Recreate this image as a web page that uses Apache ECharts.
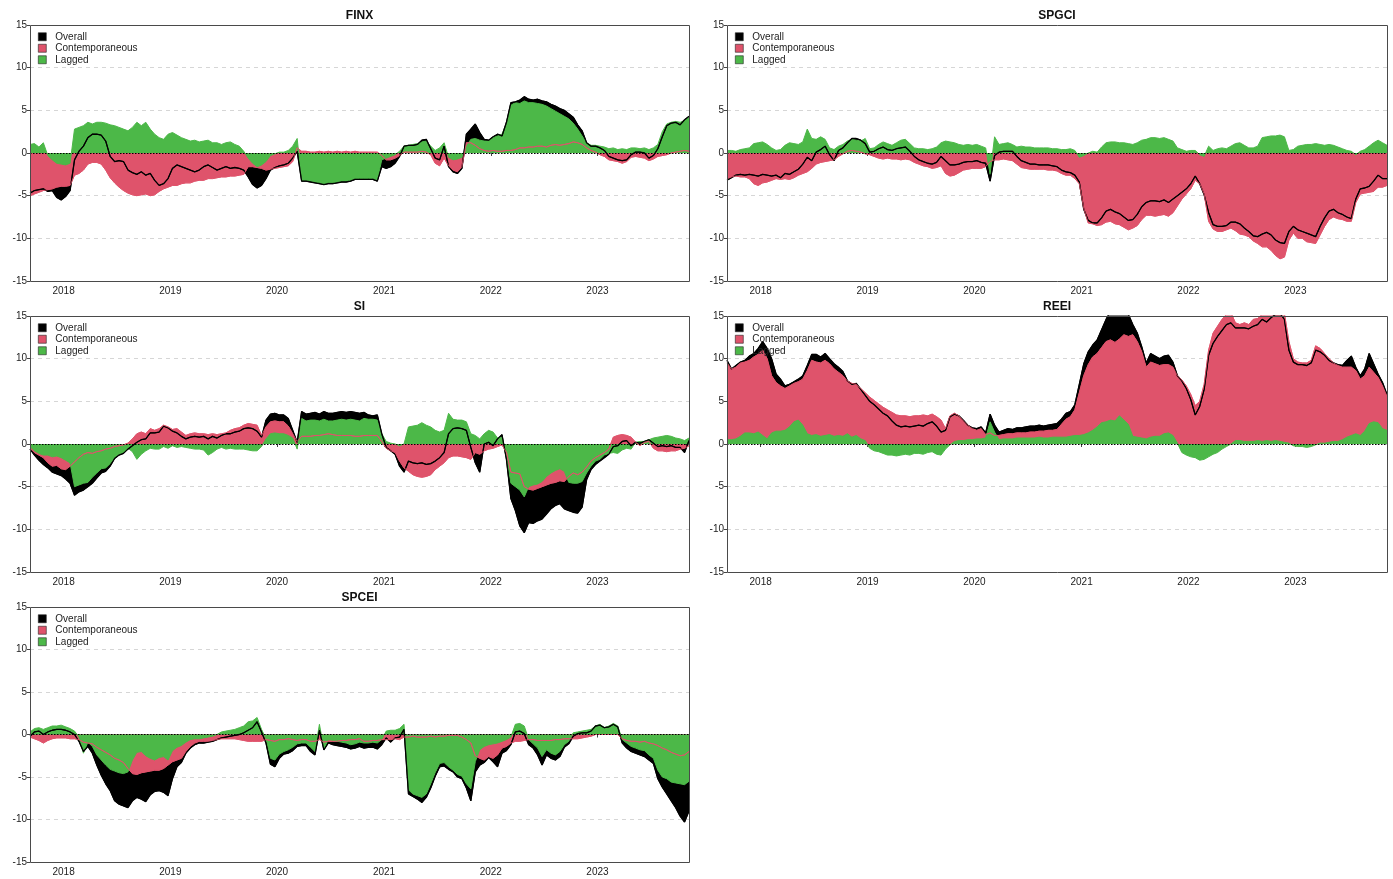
<!DOCTYPE html>
<html>
<head>
<meta charset="utf-8">
<script src="https://cdn.jsdelivr.net/npm/echarts@6.0.0/dist/echarts.min.js"></script>
<style>
  html, body { margin: 0; padding: 0; background: #ffffff; }
  #chart { width: 1393px; height: 879px; }
</style>
</head>
<body>
<div id="chart"></div>
<script>
// Net spillover decomposition: overall, contemporaneous and lagged components,
// sampled twice a month between the first and last observation.
const firstDay = Date.UTC(2017, 8, 8);
const lastDay = Date.UTC(2023, 10, 10);
const yearTicks = [2018, 2019, 2020, 2021, 2022, 2023];
const seriesNames = ['Overall', 'Contemporaneous', 'Lagged'];

const finxOverall = [
  -4.7, -4.4, -4.3, -4.2, -4.5, -4.4, -5.2, -5.5, -5.1, -4.4,
  -0.8, 0.2, 0.8, 1.8, 2.2, 2.2, 2.1, 1.4, -0.4, -1.0,
  -0.9, -1.0, -2.0, -2.3, -2.5, -2.2, -2.6, -2.4, -3.2, -3.8,
  -3.6, -3.0, -1.8, -1.4, -1.6, -1.8, -2.0, -2.2, -2.0, -1.6,
  -1.4, -1.7, -2.0, -1.8, -1.6, -1.8, -1.7, -1.8, -2.0, -2.8,
  -3.7, -4.1, -3.8, -3.0, -2.0, -1.7, -1.5, -1.4, -1.2, -0.6,
  0.2, -3.3, -3.3, -3.4, -3.5, -3.6, -3.7, -3.6, -3.6, -3.5,
  -3.4, -3.4, -3.3, -3.1, -3.1, -3.1, -3.1, -3.1, -3.3, -1.6,
  -1.8, -1.6, -1.2, -0.4, 0.8, 0.9, 0.9, 1.0, 1.5, 1.6,
  0.5, -0.6, -0.8, 0.8, -1.6, -2.2, -2.4, -1.8, 2.2, 2.8,
  3.4, 2.4, 1.6, 1.5, 1.9, 2.2, 2.0, 3.6, 5.9, 6.0,
  6.2, 6.6, 6.3, 6.2, 6.3, 6.1, 6.0, 5.7, 5.5, 5.2,
  5.0, 4.6, 4.2, 3.3, 2.6, 1.2, 0.8, 0.8, 0.6, 0.3,
  -0.4, -0.6, -0.8, -0.9, -0.8, -0.2, 0.1, 0.1, 0.0, -0.6,
  -0.3, 0.5, 1.9, 3.2, 3.5, 3.6, 3.3, 3.9, 4.3
];
const finxContemp = [
  -5.0, -4.8, -4.6, -4.4, -4.3, -4.2, -4.0, -3.9, -3.9, -3.8,
  -2.6, -2.4, -2.0, -1.3, -1.1, -1.1, -1.3, -2.0, -2.9, -3.5,
  -4.0, -4.4, -4.7, -4.9, -5.0, -4.9, -4.8, -5.0, -4.9, -4.5,
  -4.2, -4.0, -3.8, -3.8, -3.6, -3.5, -3.5, -3.3, -3.2, -3.2,
  -3.0, -3.0, -2.9, -2.8, -2.8, -2.7, -2.7, -2.6, -2.5, -1.6,
  -1.6, -1.7, -1.8, -2.0, -1.9, -1.8, -1.7, -1.6, -1.5, -1.0,
  0.6, 0.2, 0.2, 0.1, 0.1, 0.2, 0.1, 0.2, 0.1, 0.2,
  0.1, 0.2, 0.1, 0.2, 0.1, 0.1, 0.1, 0.1, 0.1, -0.3,
  -0.8, -0.8, -0.6, -0.3, 0.1, 0.1, 0.1, 0.1, 0.2, 0.1,
  -0.2, -1.2, -1.5, -0.6, -1.5, -2.0, -2.2, -1.6, 1.2, 1.2,
  0.9, 0.5, 0.3, 0.2, 0.3, 0.2, 0.2, 0.3, 0.3, 0.4,
  0.6, 0.6, 0.7, 0.7, 0.8, 0.8, 0.7, 0.9, 1.0, 0.9,
  1.0, 1.1, 1.3, 1.2, 1.0, 0.6, 0.3, 0.1, -0.2, -0.4,
  -0.8, -0.9, -1.0, -1.2, -1.0, -0.5, -0.4, -0.5, -0.6, -0.9,
  -0.7, -0.4, -0.3, -0.2, 0.0, 0.1, 0.2, 0.3, 0.2
];
const finxLagged = [
  1.0, 1.1, 0.7, 1.2, -0.3, -0.8, -1.2, -1.3, -1.4, -1.2,
  2.8, 3.0, 3.2, 3.6, 3.4, 3.6, 3.6, 3.5, 3.3, 3.2,
  3.0, 2.8, 2.6, 3.0, 3.6, 3.2, 3.6, 2.8, 2.2, 1.8,
  1.6, 2.2, 2.4, 2.1, 1.8, 1.6, 1.4, 1.5, 1.3, 1.4,
  1.5, 1.2, 1.2, 1.0, 1.2, 1.3, 1.0, 0.8, 0.2, -0.6,
  -1.2, -1.6, -1.4, -1.0, -0.3, -0.1, 0.1, 0.1, 0.3, 0.8,
  1.7, -3.2, -3.2, -3.3, -3.4, -3.5, -3.6, -3.5, -3.5, -3.4,
  -3.3, -3.3, -3.2, -3.0, -3.0, -3.0, -3.0, -3.0, -3.2, -0.8,
  -0.6, -0.4, -0.2, 0.2, 0.8, 0.9, 1.0, 1.1, 1.3, 1.4,
  0.8, 0.3, 0.6, 1.2, -0.5, -0.8, -0.7, -0.5, 0.8, 1.6,
  1.7, 1.5, 1.4, 1.4, 1.8, 2.0, 2.2, 3.5, 5.6, 5.9,
  5.8, 6.1, 5.9, 5.9, 5.8, 5.7, 5.5, 5.2, 4.9, 4.6,
  4.3, 4.0, 3.5, 2.8, 2.0, 1.2, 0.9, 0.9, 0.8, 0.7,
  0.5, 0.6, 0.4, 0.5, 0.4, 0.6, 0.6, 0.5, 0.6, 0.4,
  0.6, 1.0, 2.5, 3.4, 3.6, 3.7, 3.6, 3.8, 4.2
];

const spgciOverall = [
  -3.2, -2.9, -2.6, -2.5, -2.6, -2.5, -2.6, -2.7, -2.5, -2.6,
  -2.7, -2.6, -2.9, -2.4, -2.5, -2.2, -1.9, -1.3, -0.5, -0.9,
  0.1, 0.4, 0.8, -0.2, -0.9, 0.3, 0.6, 1.2, 1.7, 1.7,
  1.5, 1.1, 0.1, 0.2, 0.5, 0.7, 0.4, 0.3, 0.5, 0.6,
  0.7, 0.2, -0.4, -0.8, -1.0, -1.2, -1.3, -1.1, -0.4, -0.9,
  -1.4, -1.4, -1.3, -1.1, -1.0, -1.0, -0.9, -1.1, -1.2, -3.3,
  -0.3, 0.1, 0.2, 0.2, 0.2, -0.4, -0.9, -1.1, -1.3, -1.3,
  -1.4, -1.4, -1.4, -1.5, -1.6, -2.0, -2.2, -2.3, -2.6, -3.4,
  -6.6, -7.9, -8.2, -8.2, -7.6, -6.8, -6.6, -6.9, -7.1, -7.5,
  -7.9, -7.8, -7.2, -6.3, -5.8, -5.6, -5.6, -5.7, -5.5, -5.8,
  -5.4, -5.0, -4.6, -4.2, -3.6, -2.7, -3.6, -4.9, -7.0, -8.4,
  -8.6, -8.6, -8.5, -8.1, -8.1, -8.3, -8.8, -9.2, -9.7, -9.8,
  -9.5, -9.3, -9.6, -10.2, -10.5, -10.6, -9.2, -8.6, -9.0, -9.2,
  -9.4, -9.6, -9.8, -8.6, -7.6, -6.8, -6.6, -7.0, -7.2, -7.5,
  -7.7, -5.4, -4.2, -4.1, -3.9, -3.3, -2.6, -3.0, -3.0
];
const spgciContemp = [
  -3.0, -2.8, -2.7, -2.8, -2.8, -3.0, -3.6, -3.8, -3.5, -3.4,
  -3.2, -3.0, -3.1, -3.0, -3.1, -2.9, -2.6, -2.4, -2.2, -1.8,
  -1.3, -1.1, -1.0, -0.9, -0.8, -0.4, -0.1, 0.2, 0.3, 0.2,
  0.1, -0.1, -0.2, -0.4, -0.6, -0.7, -0.6, -0.7, -0.7, -0.8,
  -0.7, -0.8, -1.1, -1.3, -1.5, -1.6, -1.8, -1.7, -1.5, -2.4,
  -2.7, -2.6, -2.3, -2.0, -1.9, -1.8, -1.8, -1.8, -1.6, -1.0,
  -0.8, -0.8, -0.7, -0.8, -0.9, -1.3, -1.7, -1.8, -1.9, -1.9,
  -1.9, -1.9, -2.0, -2.0, -2.1, -2.4, -2.6, -2.6, -3.0, -3.6,
  -6.5, -8.2, -8.3, -8.5, -8.4, -8.1, -8.0, -8.3, -8.4, -8.7,
  -9.0, -8.8, -8.5, -7.8, -7.3, -7.3, -7.4, -7.3, -7.2, -7.4,
  -7.0, -6.2, -5.4, -4.8, -4.2, -3.2, -3.6, -4.8, -8.0, -8.9,
  -9.2, -9.2, -9.0, -8.8, -9.1, -9.5, -9.6, -9.8, -10.3, -10.6,
  -11.0, -11.0, -11.4, -12.0, -12.4, -12.2, -10.2, -9.4, -10.0, -10.0,
  -10.4, -10.5, -10.6, -9.6, -8.6, -7.8, -7.5, -7.7, -7.8, -8.0,
  -8.0, -5.8, -4.8, -4.7, -4.6, -4.5, -4.0, -4.0, -3.8
];
const spgciLagged = [
  0.3, 0.3, 0.2, 0.4, 0.5, 0.6, 1.1, 1.2, 1.3, 1.0,
  0.6, 0.3, 0.4, 0.9, 1.2, 1.1, 1.0, 1.3, 2.8, 1.7,
  1.6, 1.9, 1.6, 0.6, 0.4, 0.8, 1.0, 1.4, 1.6, 1.5,
  1.4, 1.7, 0.5, 0.6, 1.0, 1.3, 1.1, 0.9, 1.2, 1.5,
  1.6, 1.1, 0.6, 0.5, 0.5, 0.4, 0.5, 0.7, 1.2, 1.4,
  1.3, 1.2, 1.0, 0.9, 1.0, 0.9, 1.0, 0.8, 0.6, -2.5,
  1.9, 1.0, 1.1, 1.2, 1.0, 0.7, 0.8, 0.7, 0.7, 0.6,
  0.6, 0.6, 0.6, 0.5, 0.5, 0.4, 0.4, 0.5, 0.3, -0.5,
  -0.3, 0.0, 0.2, 0.1, 0.7, 1.2, 1.3, 1.3, 1.2, 1.2,
  1.1, 1.0, 1.2, 1.5, 1.6, 1.8, 1.8, 1.7, 1.8, 1.6,
  1.4, 0.6, 0.4, 0.2, 0.3, 0.3, -0.2, -0.4, 0.8, 0.3,
  0.5, 0.6, 0.5, 0.8, 1.1, 1.2, 0.9, 0.6, 0.6, 0.8,
  1.8, 1.9, 2.0, 2.0, 2.1, 1.9, 0.3, 0.4, 0.8, 0.9,
  1.0, 1.0, 1.1, 1.0, 0.9, 1.0, 0.9, 0.7, 0.5, 0.3,
  0.2, -0.2, 0.2, 0.4, 0.8, 1.2, 1.5, 1.2, 0.9
];

const siOverall = [
  -0.6, -1.3, -1.9, -2.4, -2.8, -3.3, -3.5, -3.7, -4.1, -4.6,
  -6.0, -5.6, -5.4, -5.0, -4.6, -4.0, -3.4, -3.2, -2.6, -1.7,
  -1.3, -1.1, -0.6, -0.2, 0.2, 0.5, 0.6, 1.3, 1.3, 1.4,
  2.1, 1.9, 1.5, 1.3, 0.9, 0.6, 0.8, 0.9, 0.8, 0.9,
  0.6, 0.9, 0.7, 1.0, 1.2, 1.2, 1.4, 1.5, 1.8, 1.9,
  1.8, 1.5, 0.8, 2.8, 3.5, 3.6, 3.4, 3.4, 3.0, 1.6,
  0.2, 3.8, 3.5, 3.6, 3.7, 3.5, 3.8, 3.6, 3.6, 3.7,
  3.8, 3.7, 3.8, 3.7, 3.6, 3.7, 3.4, 3.3, 3.4, 1.2,
  -0.4, -0.8, -1.2, -2.6, -3.3, -2.0, -2.2, -2.3, -2.2, -2.4,
  -2.3, -2.0, -1.6, -1.0, 1.2, 1.8, 1.9, 1.8, 1.6, -0.4,
  -2.2, -3.3, 0.0, 0.2, -0.2, 0.6, 1.1, -1.8, -6.4, -7.8,
  -9.6, -10.4, -9.2, -9.3, -9.0, -8.8, -8.2, -7.6, -7.2, -7.0,
  -7.6, -7.8, -8.0, -8.1, -7.4, -4.2, -3.0, -2.4, -2.0, -1.6,
  -1.2, -0.3, -0.2, 0.3, 0.4, -0.2, 0.2, 0.1, 0.3, 0.5,
  0.1, -0.3, -0.2, -0.3, -0.2, -0.4, -0.4, -1.0, 0.4
];
const siContemp = [
  -0.5, -1.0, -1.3, -1.6, -2.2, -2.6, -2.5, -2.9, -3.0, -2.6,
  -2.1, -1.6, -1.2, -1.0, -1.1, -0.9, -0.8, -0.6, -0.5, -0.3,
  -0.2, -0.1, 0.1, 0.6, 1.2, 1.4, 1.2, 1.8, 1.6, 1.8,
  2.2, 2.0, 1.7, 1.8, 1.4, 1.0, 1.2, 1.3, 1.2, 1.2,
  1.1, 1.2, 1.1, 1.2, 1.3, 1.6, 1.8, 1.9, 2.2, 2.4,
  2.3, 2.2, 1.0, 2.0, 2.6, 2.7, 2.6, 2.6, 2.1, 1.2,
  0.3, 0.9, 0.9, 0.9, 1.0, 1.0, 1.1, 1.2, 1.1, 1.0,
  1.0, 1.0, 1.0, 0.9, 0.9, 1.0, 1.0, 1.0, 1.0, 0.3,
  -0.5, -0.8, -1.0, -2.0, -2.8, -3.2, -3.6, -3.8, -3.9, -3.8,
  -3.6, -3.0, -2.6, -2.2, -1.6, -1.4, -1.4, -1.5, -1.6, -1.8,
  -1.0, -1.2, -0.8, -0.6, -0.5, -0.3, -0.1, -1.0, -3.3, -3.4,
  -3.5, -5.0, -5.3, -5.4, -5.2, -5.0, -4.8, -4.6, -4.5, -4.3,
  -4.4, -3.8, -3.4, -3.6, -3.3, -2.7, -2.0, -1.6, -1.3, -1.0,
  -0.6, 0.8, 1.0, 1.1, 1.0, 0.8, 0.2, -0.2, 0.2, 0.3,
  -0.5, -0.8, -0.8, -0.9, -0.8, -0.8, -0.6, -0.5, -0.2
];
const siLagged = [
  -0.3, -0.8, -1.1, -1.3, -1.3, -1.5, -1.4, -1.6, -1.9, -2.2,
  -5.0, -4.8, -4.6, -4.5, -3.9, -3.4, -2.9, -2.8, -2.3, -1.6,
  -1.2, -1.0, -0.5, -0.9, -1.8, -1.2, -0.8, -0.5, -0.6, -0.6,
  -0.3, -0.5, -0.2, -0.4, -0.3, -0.4, -0.5, -0.6, -0.6, -0.7,
  -1.3, -1.0, -0.6, -0.4, -0.6, -0.5, -0.6, -0.6, -0.6, -0.7,
  -0.8, -0.8, -0.3, 0.6, 1.2, 1.3, 1.2, 1.2, 1.0, 0.7,
  -0.6, 3.0, 2.7, 2.8, 2.8, 2.7, 2.9, 2.7, 2.7, 2.8,
  2.9, 2.8, 2.9, 2.8, 2.7, 3.0, 2.9, 2.9, 2.8, 1.2,
  0.3, 0.1, 0.0, -0.2, 0.0, 2.0, 2.1, 2.2, 2.5, 2.2,
  2.0, 1.6, 1.4, 1.6, 3.6, 2.9, 2.8, 2.8, 2.6, 1.2,
  1.0, 0.6, 1.2, 1.6, 1.4, 0.7, 0.8, -1.5, -4.6, -5.0,
  -5.4, -6.2, -5.0, -4.8, -4.7, -4.4, -3.8, -3.4, -3.1, -2.9,
  -3.2, -4.5, -4.6, -4.6, -4.4, -3.4, -2.6, -2.0, -1.8, -1.3,
  -1.1, -1.0, -1.1, -0.7, -0.5, -0.6, 0.2, 0.3, 0.3, 0.5,
  0.7, 0.8, 0.9, 1.0, 0.9, 0.7, 0.6, 0.4, 0.7
];

const reeiOverall = [
  9.8, 8.8, 9.2, 9.6, 9.8, 10.3, 10.6, 11.2, 12.0, 11.2,
  10.0, 8.2, 7.6, 6.8, 7.0, 7.3, 7.6, 8.0, 9.2, 10.5,
  10.5, 10.2, 10.6, 10.0, 9.4, 9.0, 8.5, 7.4, 7.0, 7.1,
  6.4, 5.7, 5.0, 4.6, 4.1, 3.6, 3.3, 2.7, 2.2, 2.0,
  2.1, 2.0, 2.1, 2.2, 2.1, 2.4, 2.6, 2.1, 1.4, 1.6,
  3.2, 3.5, 3.3, 2.8, 2.2, 1.9, 1.8, 2.0, 1.3, 3.5,
  2.2, 1.4, 1.6, 1.8, 1.7, 1.9, 1.9, 2.0, 2.1, 2.1,
  2.2, 2.1, 2.2, 2.3, 2.4, 2.9, 3.6, 3.8, 4.6, 7.0,
  9.4, 10.8, 11.6, 12.2, 13.4, 14.6, 15.6, 15.4, 15.8, 15.5,
  15.2, 14.0, 13.0, 11.4, 9.5, 10.6, 10.3, 10.0, 10.3, 10.4,
  9.6, 8.0, 7.4, 6.5, 5.2, 3.4, 4.4, 6.4, 10.4, 11.8,
  12.6, 13.3, 14.0, 14.2, 13.6, 13.6, 13.6, 13.5, 13.8, 14.0,
  14.6, 14.3, 14.8, 15.2, 15.3, 14.6, 11.0, 9.6, 9.3, 9.3,
  9.2, 9.5, 11.0, 10.8, 10.4, 9.8, 9.5, 9.3, 9.2, 9.8,
  10.3, 9.0, 8.0, 8.8, 10.6, 9.4, 8.2, 7.2, 5.8
];
const reeiContemp = [
  9.5, 8.8, 9.0, 9.5, 9.6, 9.8, 10.2, 10.5, 11.0, 10.0,
  8.0, 7.2, 6.8, 6.5, 6.8, 7.1, 7.3, 7.6, 8.6, 9.8,
  9.6, 9.5, 9.8, 9.4, 8.8, 8.4, 8.0, 7.4, 7.1, 7.0,
  6.5, 6.0, 5.5, 5.1, 4.7, 4.3, 4.0, 3.7, 3.4, 3.3,
  3.3, 3.2, 3.3, 3.3, 3.4, 3.3, 3.5, 3.2, 2.8, 1.8,
  3.3, 3.6, 3.3, 2.7, 2.2, 1.8, 1.6, 1.8, 1.1, 1.3,
  1.0, 1.0, 1.1, 1.2, 1.2, 1.3, 1.3, 1.3, 1.4, 1.4,
  1.5, 1.5, 1.6, 1.6, 1.7, 2.3, 2.9, 3.2, 4.0, 6.0,
  8.0, 9.3, 10.2, 10.6, 11.3, 12.0, 12.2, 11.9, 12.3, 12.8,
  12.6, 12.8, 12.0, 10.8, 9.0, 9.6, 9.4, 9.2, 9.3, 9.3,
  9.0, 8.0, 7.5, 6.8, 5.8, 4.5, 5.0, 7.0, 11.0, 13.0,
  13.8, 14.6, 15.2, 15.4, 14.2, 14.0, 14.2, 14.0, 14.6, 14.7,
  15.2, 15.4, 15.5, 15.5, 15.6, 15.3, 12.0, 10.0, 9.6, 9.5,
  9.5, 9.8, 11.5, 11.2, 10.6, 10.0, 9.5, 9.2, 9.0, 9.0,
  9.0, 8.6, 7.6, 8.0, 9.0, 8.4, 7.8, 6.8, 5.6
];
const reeiLagged = [
  0.5, 0.5, 0.6, 0.9, 1.3, 1.3, 1.2, 1.4, 1.0, 0.6,
  1.3, 1.5, 1.5, 1.6, 2.0, 2.6, 2.8, 2.2, 1.2, 1.0,
  1.1, 0.9, 1.0, 1.1, 0.9, 1.0, 0.9, 1.2, 0.8, 1.0,
  0.6, 0.4, -0.5, -0.8, -0.9, -1.1, -1.3, -1.3, -1.4, -1.3,
  -1.2, -1.3, -1.1, -1.1, -1.2, -1.0, -0.9, -1.2, -1.3, -0.6,
  -0.1, 0.3, 0.4, 0.4, 0.5, 0.5, 0.6, 0.6, 0.7, 2.6,
  1.4, 0.5, 0.6, 0.6, 0.6, 0.7, 0.7, 0.7, 0.7, 0.7,
  0.8, 0.7, 0.7, 0.8, 0.8, 0.8, 0.8, 0.9, 1.0, 1.0,
  1.1, 1.3, 1.6, 2.0, 2.5, 2.6, 2.8, 2.7, 3.3, 2.8,
  2.3, 0.9, 0.8, 0.7, 0.6, 0.8, 0.9, 0.9, 1.2, 1.3,
  1.0, 0.1, -1.0, -1.3, -1.5, -1.6, -1.9, -1.8, -1.5, -1.2,
  -1.0, -0.6, -0.3, 0.0, 0.4, 0.4, 0.3, 0.3, 0.3, 0.4,
  0.3, 0.4, 0.3, 0.4, 0.3, 0.2, 0.1, -0.2, -0.3, -0.3,
  -0.4, -0.3, -0.1, 0.1, 0.1, 0.2, 0.3, 0.3, 0.5, 0.8,
  1.0, 1.2, 1.0, 1.5, 2.4, 2.6, 2.5, 1.8, 1.6
];

const spceiOverall = [
  -0.2, 0.3, 0.4, 0.0, 0.3, 0.5, 0.6, 0.6, 0.5, 0.3,
  0.0, -0.8, -2.0, -1.4, -2.2, -3.6, -4.8, -5.8, -6.6, -7.8,
  -8.2, -8.4, -8.6, -7.8, -7.4, -7.6, -7.9, -7.1, -6.7, -6.6,
  -6.8, -7.2, -5.2, -3.8, -3.3, -2.2, -1.6, -1.2, -1.0, -1.0,
  -0.9, -0.8, -0.6, -0.4, -0.3, -0.2, -0.1, 0.0, 0.2, 0.5,
  0.8, 1.5, 0.3, -1.0, -3.5, -3.8, -2.8, -2.3, -2.2, -1.9,
  -1.4, -1.3, -1.3, -2.0, -2.4, 0.5, -1.8, -1.0, -1.2, -1.3,
  -1.4, -1.5, -1.7, -1.6, -1.4, -1.6, -1.5, -1.5, -1.7, -1.2,
  -0.4, -0.9, -0.4, -0.3, 0.6, -7.0, -7.3, -7.6, -8.0, -7.4,
  -6.3, -4.9, -3.8, -3.7, -4.1, -4.4, -5.0, -5.2, -6.3, -7.8,
  -4.4, -3.6, -3.3, -2.7, -3.2, -3.8, -2.2, -1.9, -1.2, 0.3,
  0.4, 0.1, -1.2, -1.6, -2.4, -3.6, -2.4, -2.8, -3.0, -2.6,
  -1.5, -1.1, -0.2, 0.1, 0.2, 0.2, 0.4, 1.0, 1.1, 0.8,
  0.9, 1.2, 0.9, -1.0, -1.6, -2.0, -2.2, -2.4, -2.6, -3.0,
  -3.4, -5.2, -6.2, -7.0, -7.8, -8.6, -9.6, -10.3, -9.0
];
const spceiContemp = [
  -0.3, -0.5, -0.7, -1.0, -0.7, -0.5, -0.4, -0.4, -0.4, -0.5,
  -0.5, -0.6, -0.9, -1.0, -1.1, -1.5, -1.8, -2.1, -2.4, -2.8,
  -3.0, -3.3, -4.0, -4.6, -4.7, -4.5, -4.4, -4.3, -4.2, -4.2,
  -4.0, -3.6, -3.2, -3.0, -2.8, -2.0, -1.4, -1.0, -0.8, -0.8,
  -0.8, -0.7, -0.6, -0.5, -0.5, -0.5, -0.5, -0.6, -0.7, -0.8,
  -0.8, -0.8, -0.8, -0.6, -0.7, -0.8, -0.6, -0.6, -0.5, -0.6,
  -0.7, -0.6, -0.6, -0.8, -0.8, -0.6, -0.9, -0.8, -0.8, -0.8,
  -0.7, -0.7, -0.6, -0.6, -0.5, -0.8, -0.8, -0.7, -0.7, -0.6,
  -0.6, -0.6, -0.5, -0.6, -0.3, -0.3, -0.2, -0.3, -0.3, -0.3,
  -0.2, -0.3, -0.2, -0.2, -0.1, -0.1, -0.1, -0.3, -0.6, -1.0,
  -2.5, -2.8, -3.0, -2.6, -2.8, -2.4, -1.6, -1.4, -1.0, -0.8,
  -0.8, -0.7, -0.6, -0.6, -0.7, -0.7, -0.7, -0.7, -0.6, -0.6,
  -0.5, -0.5, -0.5, -0.5, -0.4, -0.3, -0.2, 0.0, 0.0, 0.0,
  0.0, 0.0, 0.0, -0.5, -0.7, -0.8, -0.8, -0.9, -0.8, -1.0,
  -1.1, -1.3, -1.6, -1.8, -2.1, -2.3, -2.5, -2.4, -2.0
];
const spceiLagged = [
  0.3, 0.7, 0.8, 0.6, 0.8, 1.0, 1.0, 1.1, 0.9, 0.7,
  0.4, -0.3, -2.2, -0.9, -1.4, -2.4, -3.0, -3.6, -4.1, -4.3,
  -4.5, -4.6, -4.4, -3.0, -2.1, -2.0, -2.5, -2.8, -3.0, -2.7,
  -2.6, -3.0, -1.9, -1.5, -1.3, -0.9, -0.6, -0.5, -0.5, -0.4,
  -0.3, -0.2, 0.0, 0.3, 0.4, 0.5, 0.6, 0.8, 1.0, 1.5,
  1.6, 2.0, 0.6, -0.5, -2.8, -3.0, -2.3, -2.0, -1.8, -1.5,
  -1.1, -1.0, -1.0, -1.5, -2.0, 1.2, -1.7, -0.6, -0.7, -0.8,
  -0.9, -1.0, -1.2, -1.1, -0.9, -1.0, -1.0, -0.9, -1.0, -0.6,
  0.4, 0.5, 0.5, 0.7, 1.2, -6.5, -7.0, -7.2, -7.4, -7.0,
  -5.8, -4.5, -3.4, -3.3, -3.8, -4.2, -4.7, -4.9, -5.8, -6.4,
  -3.2, -1.8, -1.4, -1.2, -1.1, -1.0, -0.8, -0.6, -0.3, 1.2,
  1.3, 1.0, -0.6, -1.1, -1.6, -2.6, -1.8, -2.2, -2.4, -2.0,
  -1.2, -0.8, 0.2, 0.3, 0.4, 0.5, 0.6, 1.0, 1.2, 0.8,
  1.0, 1.3, 1.0, -0.6, -1.0, -1.4, -1.6, -1.8, -1.9, -2.4,
  -2.8, -4.2, -5.0, -5.2, -5.6, -5.7, -5.8, -5.9, -5.5
];

const panels = [
  { title: 'FINX', overall: finxOverall, contemp: finxContemp, lagged: finxLagged },
  { title: 'SPGCI', overall: spgciOverall, contemp: spgciContemp, lagged: spgciLagged },
  { title: 'SI', overall: siOverall, contemp: siContemp, lagged: siLagged },
  { title: 'REEI', overall: reeiOverall, contemp: reeiContemp, lagged: reeiLagged },
  { title: 'SPCEI', overall: spceiOverall, contemp: spceiContemp, lagged: spceiLagged }
];

// Page layout: three rows, two columns (last cell empty).
const boxes = [
  { left: 30, top: 25, width: 659, height: 256 },
  { left: 727, top: 25, width: 660, height: 256 },
  { left: 30, top: 316, width: 659, height: 256 },
  { left: 727, top: 316, width: 660, height: 256 },
  { left: 30, top: 607, width: 659, height: 255 }
];

const FONT = '"Liberation Sans", Arial, Helvetica, sans-serif';
const COLOR = { overall: '#000000', contemp: '#df536b', lagged: '#4cb848' };
const yearStamps = yearTicks.map(y => Date.UTC(y, 0, 1));

function toPairs(values) {
  const step = (lastDay - firstDay) / (values.length - 1);
  return values.map((v, i) => [firstDay + i * step, v]);
}

const grids = [], xAxes = [], yAxes = [], series = [], legends = [], graphics = [];

panels.forEach((p, k) => {
  const b = boxes[k];
  grids.push({ left: b.left, top: b.top, width: b.width, height: b.height, show: false, containLabel: false });

  xAxes.push({
    gridIndex: k, type: 'value', min: firstDay, max: lastDay,
    axisLine: { show: false },
    axisTick: { show: true, customValues: yearStamps, length: 3, lineStyle: { color: '#444', width: 1 } },
    axisLabel: {
      show: true, customValues: yearStamps, margin: 5,
      formatter: v => String(new Date(v).getUTCFullYear()),
      fontFamily: FONT, fontSize: 10, color: '#222'
    },
    splitLine: { show: false }
  });

  yAxes.push({
    gridIndex: k, type: 'value', min: -15, max: 15, interval: 5,
    axisLine: { show: false },
    axisTick: { show: true, length: 3, lineStyle: { color: '#444', width: 1 } },
    axisLabel: { margin: 3, fontFamily: FONT, fontSize: 10, color: '#222' },
    splitLine: { show: true, lineStyle: { type: [4, 4], color: '#d6d6d6', width: 1 } }
  });

  const area = (name, values, color) => ({
    type: 'line', name, xAxisIndex: k, yAxisIndex: k,
    data: toPairs(values), showSymbol: false, symbol: 'none',
    itemStyle: { color }, lineStyle: { color, width: 1 },
    areaStyle: { color, opacity: 1, origin: 0 },
    silent: true, animation: false
  });
  const line = (name, values, color, width) => ({
    type: 'line', name, xAxisIndex: k, yAxisIndex: k,
    data: toPairs(values), showSymbol: false, symbol: 'none',
    itemStyle: { color }, lineStyle: { color, width },
    silent: true, animation: false
  });

  series.push(area('Overall', p.overall, COLOR.overall));
  series.push(area('Contemporaneous', p.contemp, COLOR.contemp));
  series.push(area('Lagged', p.lagged, COLOR.lagged));
  series.push(line('Overall', p.overall, COLOR.overall, 1.3));
  const ctLine = line('Contemporaneous', p.contemp, COLOR.contemp, 0.8);
  ctLine.markLine = {
    silent: true, symbol: ['none', 'none'], animation: false,
    label: { show: false },
    lineStyle: { type: [1.5, 1.5], color: '#000', width: 1 },
    data: [{ yAxis: 0 }]
  };
  series.push(ctLine);

  legends.push({
    left: b.left + 8, top: b.top + 6, orient: 'vertical',
    icon: 'rect', itemWidth: 8, itemHeight: 8, itemGap: 0, padding: 0,
    selectedMode: false,
    data: seriesNames.map(n => ({ name: n })),
    itemStyle: { borderColor: '#222', borderWidth: 0.6 },
    textStyle: { fontFamily: FONT, fontSize: 10, color: '#222', lineHeight: 11.5, padding: [0, 0, 0, 4] }
  });

  // frame around each plot, kept above the filled areas
  graphics.push({
    type: 'rect', z: 100, silent: true,
    shape: { x: b.left + 0.5, y: b.top + 0.5, width: b.width, height: b.height },
    style: { fill: 'none', stroke: '#4a4a4a', lineWidth: 1 }
  });
  graphics.push({
    type: 'text', z: 100, silent: true,
    x: b.left + b.width / 2, y: b.top - 9,
    style: {
      text: p.title, font: 'bold 12px ' + FONT, fill: '#111',
      textAlign: 'center', align: 'center',
      textVerticalAlign: 'middle', verticalAlign: 'middle'
    }
  });
});

const chart = echarts.init(document.getElementById('chart'), null, { renderer: 'canvas' });
chart.setOption({
  backgroundColor: '#ffffff',
  animation: false,
  grid: grids,
  xAxis: xAxes,
  yAxis: yAxes,
  legend: legends,
  series: series,
  graphic: graphics
});
</script>
</body>
</html>
